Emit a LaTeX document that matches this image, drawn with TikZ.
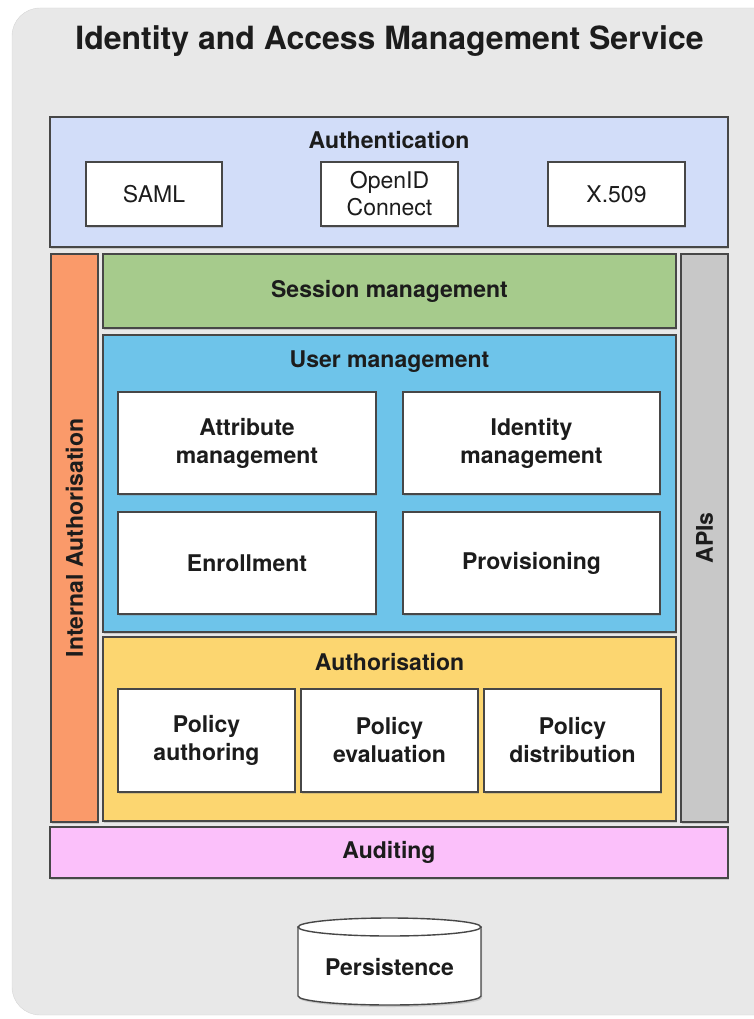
\documentclass[tikz,border=0pt]{standalone}
\usepackage{fontspec}
\setmainfont{TeX Gyre Heros}
\usetikzlibrary{shadows}
\definecolor{bggray}{HTML}{E8E8E8}
\definecolor{bgline}{HTML}{D6D6D6}
\definecolor{edgegray}{HTML}{474747}
\definecolor{inkgray}{HTML}{1C1C1C}
\definecolor{authnblue}{HTML}{D2DDF9}
\definecolor{intorange}{HTML}{FA9A6A}
\definecolor{apigray}{HTML}{C8C8C8}
\definecolor{sessgreen}{HTML}{A6CB8C}
\definecolor{userblue}{HTML}{6EC4EA}
\definecolor{authzyellow}{HTML}{FCD670}
\definecolor{auditpink}{HTML}{FBC0FA}

\begin{document}
\begin{tikzpicture}[x=1pt,y=-1pt]
    \tikzset{layer/.style = {shape=rectangle, draw=edgegray, line width=1.4pt, text=inkgray, inner sep=0pt,
        font=\fontsize{23}{28}\selectfont\bfseries,
        drop shadow={shadow xshift=1.2pt, shadow yshift=-2pt, opacity=0.3}}}
    \tikzset{heading/.style = {anchor=base, text=inkgray, font=\fontsize{23}{28}\selectfont\bfseries}}
    \tikzset{part/.style = {layer, fill=white, align=center}}
    \tikzset{method/.style = {part, font=\fontsize{23}{27}\selectfont}}

    \useasboundingbox (0,0) rectangle (754,1019);
    \draw[bgline, fill=bggray, rounded corners=28pt] (12,8) rectangle (800,1015);

    % title
    \node[anchor=base, text=inkgray, font=\fontsize{32}{38}\selectfont\bfseries] (title) at (389.5,50) {Identity and Access Management Service};

    % authentication
    \node[layer, fill=authnblue, minimum width=678pt, minimum height=130pt] (authn) at (389,182) {};
    \node[heading] (authnlabel) at (389,149) {Authentication};
    \node[method, minimum width=136pt, minimum height=64pt] (saml) at (154,194) {SAML};
    \node[method, minimum width=137pt, minimum height=64pt] (openid) at (389.5,194) {OpenID\\Connect};
    \node[method, minimum width=137pt, minimum height=64pt] (xfivenine) at (616.5,194) {X.509};

    % side bars
    \node[layer, fill=intorange, minimum width=568pt, minimum height=47pt, rotate=90] (intauth) at (74.5,538) {Internal Authorisation};
    \node[layer, fill=apigray, minimum width=568pt, minimum height=47pt, rotate=90] (apis) at (704.5,538) {APIs};

    % session
    \node[layer, fill=sessgreen, minimum width=573pt, minimum height=74pt] (session) at (389.5,291) {Session management};

    % user management
    \node[layer, fill=userblue, minimum width=573pt, minimum height=297pt] (userm) at (389.5,483.5) {};
    \node[heading] (usermlabel) at (389.5,367) {User management};
    \node[part, minimum width=258pt, minimum height=102pt] (attr) at (247,443) {Attribute\\management};
    \node[part, minimum width=257pt, minimum height=102pt] (ident) at (531.5,443) {Identity\\management};
    \node[part, minimum width=258pt, minimum height=102pt] (enrol) at (247,563) {Enrollment};
    \node[part, minimum width=257pt, minimum height=102pt] (prov) at (531.5,563) {Provisioning};

    % authorisation
    \node[layer, fill=authzyellow, minimum width=573pt, minimum height=184pt] (authz) at (389.5,729) {};
    \node[heading] (authzlabel) at (389.5,670) {Authorisation};
    \node[part, minimum width=177pt, minimum height=103pt] (pauthor) at (206.5,740.5) {Policy\\authoring};
    \node[part, minimum width=177pt, minimum height=103pt] (peval) at (389.5,740.5) {Policy\\evaluation};
    \node[part, minimum width=177pt, minimum height=103pt] (pdist) at (572.5,740.5) {Policy\\distribution};

    % auditing
    \node[layer, fill=auditpink, minimum width=678pt, minimum height=51pt] (audit) at (389,852.5) {Auditing};

    % persistence
    \draw[edgegray, line width=1.4pt, fill=white, drop shadow={shadow xshift=1.2pt, shadow yshift=-2pt, opacity=0.3}]
        (298,927) -- (298,996) arc[start angle=180, end angle=0, x radius=91.5, y radius=9] -- (481,927) -- cycle;
    \draw[edgegray, line width=1.4pt, fill=white] (389.5,927) ellipse [x radius=91.5, y radius=9];
    \node[heading] (persist) at (389.5,975) {Persistence};
\end{tikzpicture}
\end{document}
